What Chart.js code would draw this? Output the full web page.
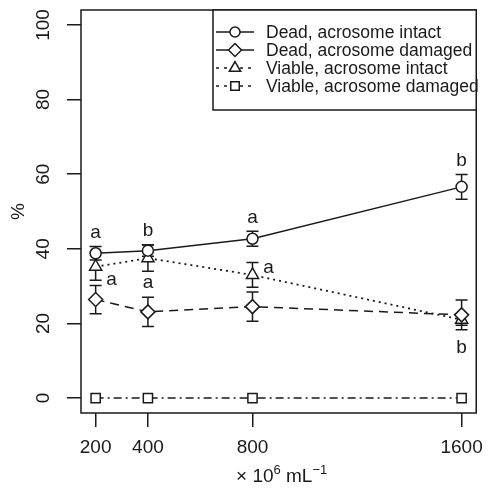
<!DOCTYPE html>
<html>
<head>
<meta charset="utf-8">
<script src="https://cdn.jsdelivr.net/npm/chart.js@4.4.1/dist/chart.umd.min.js"></script>
<style>
html, body { margin: 0; padding: 0; background: #fff; }
#wrap { width: 492px; height: 493px; }
</style>
</head>
<body>
<div id="wrap"><canvas id="chart" width="492" height="493"></canvas></div>
<script>
// values
const concentrations = [200, 400, 800, 1600];
const xTicks = [200, 400, 800, 1600];
const yTicks = [0, 20, 40, 60, 80, 100];

const deadIntact = [38.8, 39.5, 42.7, 56.6];
const deadIntactErr = [1.8, 1.5, 2.0, 3.3];
const deadDamaged = [26.4, 23.1, 24.5, 22.3];
const deadDamagedErr = [3.8, 3.9, 3.9, 4.0];
const viableIntact = [35.2, 37.5, 33.0, 21.0];
const viableIntactErr = [3.6, 3.5, 3.3, 1.5];
const viableDamaged = [0, 0, 0, 0];
const viableDamagedErr = [0, 0, 0, 0];

const lettersDeadIntact = ['a', 'b', 'a', 'b'];
const lettersViableIntact = ['a', 'a', 'a', 'b'];

const seriesLabels = [
    'Dead, acrosome intact',
    'Dead, acrosome damaged',
    'Viable, acrosome intact',
    'Viable, acrosome damaged'
];

const INK = '#1a1a1a';
const FONT = "'Liberation Sans', Arial, sans-serif";

// where each letter sits relative to its point (pixels)
const viableLetterOffsets = [[16, 13], [0, 25], [16, -7], [0, 28]];

function makeSeries(label, values, dash, style, radius, lw) {
    return {
        label: label,
        data: values.map((v, i) => ({ x: concentrations[i], y: v })),
        borderColor: INK,
        borderWidth: lw,
        borderDash: dash,
        tension: 0,
        fill: false,
        pointStyle: style,
        pointRadius: radius,
        pointHoverRadius: radius,
        pointBackgroundColor: '#fff',
        pointBorderColor: INK,
        pointBorderWidth: 1.5
    };
}

const datasets = [
    makeSeries(seriesLabels[0], deadIntact, [], 'circle', 5.5, 1.5),
    makeSeries(seriesLabels[1], deadDamaged, [9, 6], 'rectRot', 7, 1.5),
    makeSeries(seriesLabels[2], viableIntact, [2, 4], 'triangle', 7, 1.8),
    makeSeries(seriesLabels[3], viableDamaged, [8, 4, 2, 4], 'rect', 6.5, 1.5)
];
const errors = [deadIntactErr, deadDamagedErr, viableIntactErr, viableDamagedErr];

// error bars, drawn under the markers
const errorBars = {
    id: 'errorBars',
    beforeDatasetsDraw(chart) {
        const { ctx, scales: { x, y } } = chart;
        ctx.save();
        ctx.strokeStyle = INK;
        ctx.lineWidth = 1.5;
        datasets.forEach((ds, d) => {
            ds.data.forEach((p, i) => {
                const e = errors[d][i];
                if (!e) return;
                const px = x.getPixelForValue(p.x);
                const top = y.getPixelForValue(p.y + e);
                const bot = y.getPixelForValue(p.y - e);
                ctx.beginPath();
                ctx.moveTo(px, top); ctx.lineTo(px, bot);
                ctx.moveTo(px - 6, top); ctx.lineTo(px + 6, top);
                ctx.moveTo(px - 6, bot); ctx.lineTo(px + 6, bot);
                ctx.stroke();
            });
        });
        ctx.restore();
    }
};

// box, y labels, axis titles, letters, legend
const decorations = {
    id: 'decorations',
    afterDraw(chart) {
        const { ctx, chartArea: a, scales: { x, y } } = chart;
        ctx.save();
        ctx.strokeStyle = INK;
        ctx.lineWidth = 1.5;
        ctx.strokeRect(a.left, a.top, a.right - a.left, a.bottom - a.top);

        ctx.fillStyle = INK;
        ctx.textAlign = 'center';
        ctx.textBaseline = 'middle';
        ctx.font = '19px ' + FONT;
        yTicks.forEach(v => {
            ctx.save();
            ctx.translate(44, y.getPixelForValue(v));
            ctx.rotate(-Math.PI / 2);
            ctx.fillText(String(v), 0, 0);
            ctx.restore();
        });

        // y title
        ctx.save();
        ctx.translate(19, (a.top + a.bottom) / 2);
        ctx.rotate(-Math.PI / 2);
        ctx.font = '19px ' + FONT;
        ctx.fillText('%', 0, 0);
        ctx.restore();

        // x title: × 10^6 mL^-1
        ctx.textAlign = 'left';
        ctx.textBaseline = 'alphabetic';
        const parts = [['× 10', 19, 0], ['6', 13, -8], [' mL', 19, 0], ['−1', 13, -8]];
        let total = 0;
        parts.forEach(p => { ctx.font = p[1] + 'px ' + FONT; total += ctx.measureText(p[0]).width; });
        let tx = (a.left + a.right) / 2 - total / 2 + 3;
        parts.forEach(p => {
            ctx.font = p[1] + 'px ' + FONT;
            ctx.fillText(p[0], tx, 482 + p[2]);
            tx += ctx.measureText(p[0]).width;
        });

        // significance letters
        ctx.textAlign = 'center';
        ctx.textBaseline = 'middle';
        ctx.font = '19px ' + FONT;
        lettersDeadIntact.forEach((t, i) => {
            const px = x.getPixelForValue(concentrations[i]);
            const py = y.getPixelForValue(deadIntact[i] + deadIntactErr[i]) - 14;
            ctx.fillText(t, px, py);
        });
        lettersViableIntact.forEach((t, i) => {
            const px = x.getPixelForValue(concentrations[i]) + viableLetterOffsets[i][0];
            const py = y.getPixelForValue(viableIntact[i]) + viableLetterOffsets[i][1];
            ctx.fillText(t, px, py);
        });

        // legend
        const lx = 213, ly = a.top, lw = a.right - lx, lh = 100;
        ctx.fillStyle = '#fff';
        ctx.fillRect(lx, ly, lw, lh);
        ctx.lineWidth = 1.5;
        ctx.strokeRect(lx, ly, lw, lh);
        const rows = [32, 50, 68, 86];
        datasets.forEach((ds, i) => {
            const ry = rows[i];
            ctx.save();
            ctx.strokeStyle = INK;
            ctx.lineWidth = 1.5;
            ctx.setLineDash(i < 2 ? [] : [3, 5]);
            ctx.beginPath();
            ctx.moveTo(216, ry); ctx.lineTo(254, ry);
            ctx.stroke();
            ctx.setLineDash([]);
            ctx.fillStyle = '#fff';
            Chart.helpers.drawPoint(ctx, {
                pointStyle: ds.pointStyle,
                radius: ds.pointRadius - 0.5,
                borderWidth: 1.5,
                rotation: 0
            }, 235, ry);
            ctx.restore();
            ctx.fillStyle = INK;
            ctx.textAlign = 'left';
            ctx.font = '17.5px ' + FONT;
            ctx.fillText(ds.label, 266, ry + 1);
        });
        ctx.restore();
    }
};

new Chart(document.getElementById('chart').getContext('2d'), {
    type: 'line',
    data: { datasets: datasets },
    plugins: [errorBars, decorations],
    options: {
        responsive: false,
        animation: false,
        devicePixelRatio: 1,
        layout: { autoPadding: false, padding: { top: 10, right: 7, left: 0, bottom: 0 } },
        plugins: { legend: { display: false }, tooltip: { enabled: false } },
        scales: {
            x: {
                type: 'linear',
                min: 144,
                max: 1656,
                afterBuildTicks: s => { s.ticks = xTicks.map(v => ({ value: v })); },
                afterFit: s => { s.height = 80; },
                ticks: {
                    color: INK,
                    font: { family: FONT, size: 19 },
                    padding: 9,
                    maxRotation: 0,
                    callback: v => String(v)
                },
                grid: { drawOnChartArea: false, drawTicks: true, tickLength: 14, color: INK, lineWidth: 1.5 },
                border: { display: false }
            },
            y: {
                min: -4,
                max: 104,
                afterBuildTicks: s => { s.ticks = yTicks.map(v => ({ value: v })); },
                afterFit: s => { s.width = 81; },
                ticks: { display: false },
                grid: { drawOnChartArea: false, drawTicks: true, tickLength: 14, color: INK, lineWidth: 1.5 },
                border: { display: false }
            }
        }
    }
});
</script>
</body>
</html>
